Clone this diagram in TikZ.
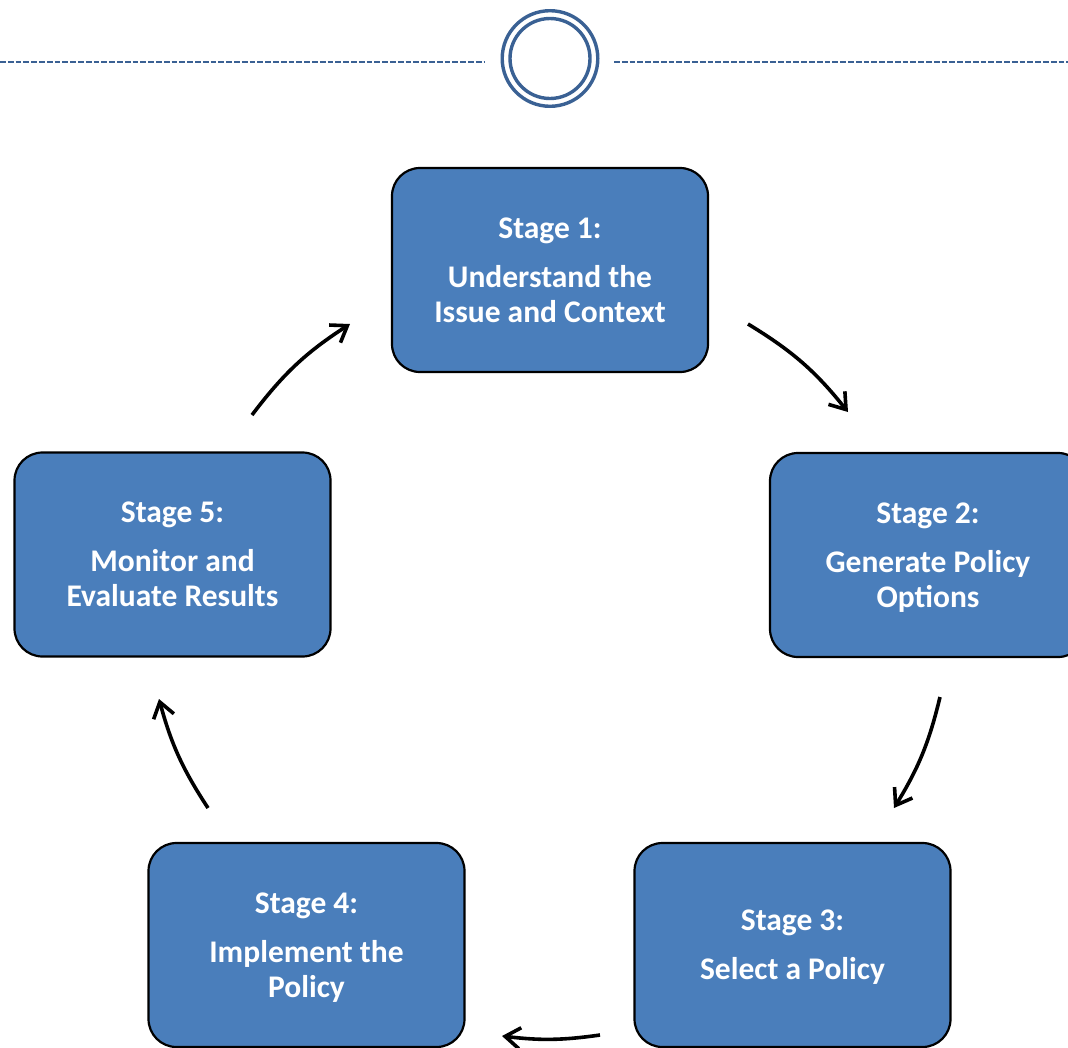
\documentclass[tikz,border=0pt]{standalone}
\usepackage{fontspec}
\setmainfont{Carlito}
\usetikzlibrary{arrows.meta}
\definecolor{boxblue}{HTML}{4A7EBB}
\definecolor{ringblue}{HTML}{3A6194}
\begin{document}
\begin{tikzpicture}[x=1pt,y=1pt,
  stagebox/.style={draw=black, line width=2.2pt, fill=boxblue, rounded corners=28pt,
    minimum width=316pt, minimum height=204pt, inner sep=0pt, text=white, align=center,
    font=\fontsize{31.5}{35}\selectfont\bfseries, text depth=0pt},
  cyclearrow/.style={line width=3.6pt, -{Straight Barb[length=15pt,width=21pt]}},
  ring/.style={circle, draw=ringblue, line width=3.4pt, inner sep=0pt},
  rule/.style={draw=ringblue, line width=2pt, dash pattern=on 5.8pt off 2pt}]
\useasboundingbox (0,0) rectangle (1068,-1047);
\clip (0,0) rectangle (1068,-1047);
% header ornament
\node[ring, minimum size=95.6pt] (outer) at (550,-58.5) {};
\node[ring, minimum size=80pt] (inner) at (outer.center) {};
\coordinate (dl0) at (0,-62);
\coordinate (dl1) at (485,-62);
\coordinate (dr0) at (614,-62);
\coordinate (dr1) at (1068,-62);
\draw[rule] (dl0) -- (dl1);
\draw[rule] (dr0) -- (dr1);
% stages
\node[stagebox] (s1) at (550,-270) {Stage 1:\\[14pt]Understand the\\Issue and Context};
\node[stagebox] (s2) at (928,-555) {Stage 2:\\[14pt]Generate Policy\\Options};
\node[stagebox] (s3) at (792.5,-945) {Stage 3:\\[14pt]Select a Policy};
\node[stagebox] (s4) at (306.5,-945) {Stage 4:\\[14pt]Implement the\\Policy};
\node[stagebox] (s5) at (172.5,-554.5) {Stage 5:\\[14pt]Monitor and\\Evaluate Results};
% arrow end points
\coordinate (a1s) at (252,-415);
\coordinate (a1e) at (350,-324);
\coordinate (a2s) at (748,-324);
\coordinate (a2e) at (848,-412);
\coordinate (a3s) at (940,-697);
\coordinate (a3e) at (894,-808);
\coordinate (a4s) at (600,-1035);
\coordinate (a4e) at (502,-1036);
\coordinate (a5s) at (208,-808);
\coordinate (a5e) at (159,-699);
\draw[cyclearrow] (a1s) to[bend left=10] (a1e);
\draw[cyclearrow] (a2s) to[bend left=10] (a2e);
\draw[cyclearrow] (a3s) to[bend left=9] (a3e);
\draw[cyclearrow] (a4s) to[bend left=7.5] (a4e);
\draw[cyclearrow] (a5s) to[bend left=9] (a5e);
\end{tikzpicture}
\end{document}
